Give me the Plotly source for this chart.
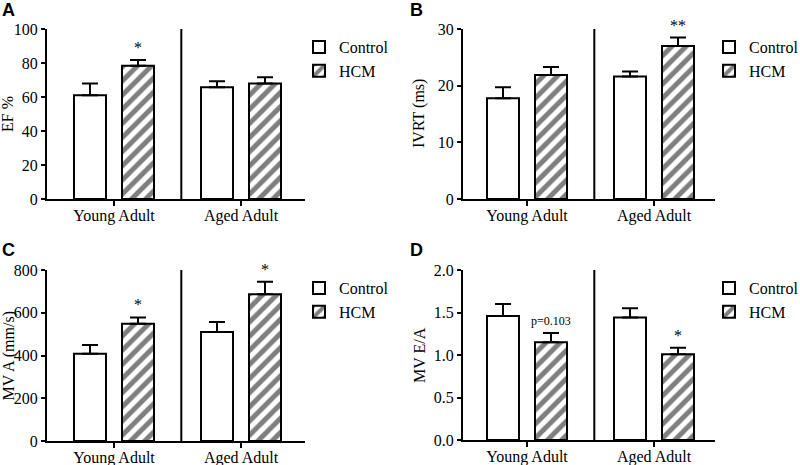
import plotly.graph_objects as go

groups = ["Young Adult", "Aged Adult"]

ef_control = [61.0, 65.8]
ef_control_err = [7.0, 3.4]
ef_hcm = [78.4, 68.0]
ef_hcm_err = [3.4, 3.6]

ivrt_control = [17.8, 21.6]
ivrt_control_err = [1.9, 0.9]
ivrt_hcm = [21.9, 27.0]
ivrt_hcm_err = [1.4, 1.5]

mva_control = [408, 510]
mva_control_err = [41, 47]
mva_hcm = [549, 687]
mva_hcm_err = [29, 58]

mvea_control = [1.46, 1.44]
mvea_control_err = [0.14, 0.11]
mvea_hcm = [1.15, 1.01]
mvea_hcm_err = [0.11, 0.075]

panels = [
    dict(label="A", ytitle="EF %", ctrl=ef_control, ctrl_e=ef_control_err, hcm=ef_hcm, hcm_e=ef_hcm_err,
         yrange=[0, 100], dtick=20, yfmt=None, sig=[(0, "*", 16)]),
    dict(label="B", ytitle="IVRT (ms)", ctrl=ivrt_control, ctrl_e=ivrt_control_err, hcm=ivrt_hcm, hcm_e=ivrt_hcm_err,
         yrange=[0, 30], dtick=10, yfmt=None, sig=[(1, "**", 16)]),
    dict(label="C", ytitle="MV A (mm/s)", ctrl=mva_control, ctrl_e=mva_control_err, hcm=mva_hcm, hcm_e=mva_hcm_err,
         yrange=[0, 800], dtick=200, yfmt=None, sig=[(0, "*", 16), (1, "*", 16)]),
    dict(label="D", ytitle="MV E/A", ctrl=mvea_control, ctrl_e=mvea_control_err, hcm=mvea_hcm, hcm_e=mvea_hcm_err,
         yrange=[0, 2.0], dtick=0.5, yfmt=".1f", sig=[(0, "p=0.103", 12), (1, "*", 16)]),
]

W, H = 800, 465
# pixel geometry per panel: (x_axis_left, x_axis_right, y_top, y_bottom, tick0_px)
geom = [
    (47, 305, 29, 199, 114),
    (463, 715, 29, 199, 527),
    (47, 305, 270, 441, 114),
    (463, 715, 270, 440, 527),
]
CAT = 127.0
BW = 0.252
OFF = 0.189

SERIF = "Liberation Serif"
fig = go.Figure()
annotations = []
shapes = []

for i, (p, g) in enumerate(zip(panels, geom)):
    n = "" if i == 0 else str(i + 1)
    xa, ya = "x" + n, "y" + n
    xl, xr, yt, yb, t0 = g
    xrange = [(xl - t0) / CAT, (xr - t0) / CAT]
    legname = "legend" if i == 0 else "legend" + str(i + 1)
    fig.add_trace(go.Bar(
        x=[0, 1], y=p["ctrl"], name="Control", xaxis=xa, yaxis=ya,
        width=BW, offset=-OFF - BW / 2,
        marker=dict(color="white", line=dict(color="black", width=2)),
        error_y=dict(type="data", array=p["ctrl_e"], arrayminus=[0, 0], symmetric=False,
                     color="black", thickness=2, width=8),
        legend=legname, showlegend=True,
    ))
    fig.add_trace(go.Bar(
        x=[0, 1], y=p["hcm"], name="HCM", xaxis=xa, yaxis=ya,
        width=BW, offset=OFF - BW / 2,
        marker=dict(color="white", line=dict(color="black", width=2),
                    pattern=dict(shape="/", fgcolor="black", bgcolor="white", size=10, solidity=0.5)),
        error_y=dict(type="data", array=p["hcm_e"], arrayminus=[0, 0], symmetric=False,
                     color="black", thickness=2, width=8),
        legend=legname, showlegend=True,
    ))
    xd = [xl / W, xr / W]
    yd = [1 - yb / H, 1 - yt / H]
    axkey = "xaxis" + n
    aykey = "yaxis" + n
    fig.layout[axkey] = dict(
        domain=xd, range=xrange, anchor=ya, tickmode="array", tickvals=[0, 1], ticktext=groups,
        showline=True, linecolor="black", linewidth=2, ticks="outside", ticklen=5, tickwidth=2,
        tickcolor="black", showgrid=False, zeroline=False, automargin=False,
        tickfont=dict(family=SERIF, size=16, color="black"),
        ticklabelstandoff=-4,
    )
    yax = dict(
        domain=yd, range=p["yrange"], anchor=xa, dtick=p["dtick"], tick0=0,
        showline=True, linecolor="black", linewidth=2, ticks="outside", ticklen=4, tickwidth=2,
        tickcolor="black", showgrid=False, zeroline=False, automargin=False,
        tickfont=dict(family=SERIF, size=16, color="black"),
    )
    if p["yfmt"]:
        yax["tickformat"] = p["yfmt"]
    fig.layout[aykey] = yax
    ymax = p["yrange"][1]
    shapes.append(dict(type="line", xref=xa, yref=ya, x0=0.53, x1=0.53, y0=0, y1=ymax * 1.012,
                       line=dict(color="black", width=2)))
    annotations.append(dict(text="<b>" + p["label"] + "</b>", xref="paper", yref="paper",
                            x=(0 if i % 2 == 0 else 408) / W, y=1 - ((10 if i < 2 else 250) / H),
                            xanchor="left", yanchor="middle", showarrow=False,
                            font=dict(family="Liberation Sans", size=18, color="black")))
    annotations.append(dict(text=p["ytitle"], xref="paper", yref="paper",
                            x=(8 if i % 2 == 0 else 419) / W, y=1 - ((yt + yb) / 2) / H,
                            xanchor="center", yanchor="middle", textangle=-90, showarrow=False,
                            font=dict(family=SERIF, size=16, color="black")))
    for (gi, txt, fs) in p["sig"]:
        annotations.append(dict(text=txt, xref=xa, yref=ya, x=gi + OFF, y=p["hcm"][gi] + p["hcm_e"][gi],
                                xanchor="center", yanchor="bottom", yshift=2 if fs > 12 else 3,
                                showarrow=False, font=dict(family=SERIF, size=fs, color="black")))
    fig.layout[legname] = dict(
        x=(xr - 6) / W, y=1 - (yt + 1) / H, xanchor="left", yanchor="top",
        font=dict(family=SERIF, size=16, color="black"), bgcolor="rgba(0,0,0,0)",
        tracegroupgap=0, itemsizing="constant",
    )

fig.update_layout(
    width=W, height=H, margin=dict(l=0, r=0, t=0, b=0, autoexpand=False),
    paper_bgcolor="white", plot_bgcolor="white",
    font=dict(family=SERIF, color="black"),
    barmode="overlay", showlegend=True,
    annotations=annotations, shapes=shapes,
)

fig.write_html("out.html", config={"displayModeBar": False},
               post_script="document.body.style.margin='0';document.body.style.padding='0';document.body.style.overflow='hidden';")
